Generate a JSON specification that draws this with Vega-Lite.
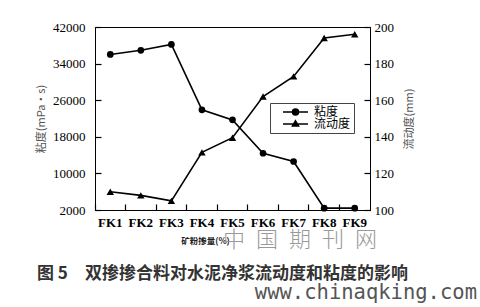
{
  "$schema": "https://vega.github.io/schema/vega-lite/v6.json",
  "padding": {"left": 35, "top": 20, "right": 2, "bottom": 0},
  "background": "white",
  "title": {"text": "www.chinaqking.com", "orient": "bottom", "anchor": "end", "frame": "bounds", "font": "DejaVu Sans Mono", "fontSize": 20.5, "fontWeight": "normal", "color": "#555", "dx": 62, "offset": 1},
  "vconcat": [
    {
      "title": {"text": "图 5　双掺掺合料对水泥净浆流动度和粘度的影响", "orient": "bottom", "anchor": "start", "frame": "bounds", "font": "Noto Sans CJK SC", "fontSize": 17, "fontWeight": "bold", "color": "#333", "dx": 2, "offset": 15},
      "vconcat": [
        {
          "title": {"text": "中\u2002国\u2002期\u2002刊\u2002网", "orient": "bottom", "anchor": "end", "frame": "group", "font": "Noto Sans CJK SC", "fontSize": 22, "fontWeight": 300, "color": "#999", "dx": 7, "offset": -15},
          "width": 275,
          "height": 183,
          "data": {
            "values": [
              {"k": "FK1", "s": "粘度", "v": 36000},
              {"k": "FK2", "s": "粘度", "v": 36900},
              {"k": "FK3", "s": "粘度", "v": 38200},
              {"k": "FK4", "s": "粘度", "v": 23900},
              {"k": "FK5", "s": "粘度", "v": 21700},
              {"k": "FK6", "s": "粘度", "v": 14400},
              {"k": "FK7", "s": "粘度", "v": 12600},
              {"k": "FK8", "s": "粘度", "v": 2400},
              {"k": "FK9", "s": "粘度", "v": 2400},
              {"k": "FK1", "s": "流动度", "v": 110},
              {"k": "FK2", "s": "流动度", "v": 108},
              {"k": "FK3", "s": "流动度", "v": 105},
              {"k": "FK4", "s": "流动度", "v": 131.5},
              {"k": "FK5", "s": "流动度", "v": 139.5},
              {"k": "FK6", "s": "流动度", "v": 162},
              {"k": "FK7", "s": "流动度", "v": 173},
              {"k": "FK8", "s": "流动度", "v": 194},
              {"k": "FK9", "s": "流动度", "v": 196}
            ]
          },
          "encoding": {
            "x": {
              "field": "k", "type": "ordinal",
              "scale": {"type": "band", "paddingInner": 0, "paddingOuter": 0},
              "axis": {"title": "矿粉掺量(%)", "titleX": 110}
            }
          },
          "layer": [
            {
              "transform": [{"filter": "datum.s === '粘度'"}],
              "encoding": {
                "y": {
                  "field": "v", "type": "quantitative",
                  "scale": {"domain": [2000, 42000], "zero": false, "nice": false},
                  "axis": {"orient": "left", "values": [2000, 10000, 18000, 26000, 34000, 42000], "format": "d", "title": "粘度(mPa·s)", "titlePadding": 6}
                }
              },
              "layer": [
                {"mark": {"type": "line", "color": "black", "strokeWidth": 1.6}},
                {"mark": {"type": "point", "shape": "circle", "filled": true, "color": "black", "size": 45, "opacity": 1}},
                {
                  "mark": {"type": "point", "filled": false, "color": "black", "strokeWidth": 1.5, "size": 64, "opacity": 0},
                  "encoding": {
                    "shape": {
                      "field": "s", "type": "nominal",
                      "scale": {"domain": ["粘度", "流动度"], "range": ["M-3.125,0H3.125M0.75,0A0.75,0.75 0 1 1 -0.75,0A0.75,0.75 0 1 1 0.75,0M0.41,0A0.41,0.41 0 1 1 -0.41,0A0.41,0.41 0 1 1 0.41,0M0.1,0A0.1,0.1 0 1 1 -0.1,0A0.1,0.1 0 1 1 0.1,0", "M-3.125,0H3.125M0,-0.81L0.775,0.525L-0.775,0.525ZM0,-0.455L0.465,0.348L-0.465,0.348ZM0,-0.144L0.194,0.19L-0.194,0.19Z"]},
                      "legend": {
                        "orient": "none", "legendX": 175, "legendY": 76, "title": null,
                        "strokeColor": "#444", "padding": 3,
                        "symbolSize": 64, "symbolOffset": 16.5, "symbolOpacity": 1, "symbolStrokeWidth": 1.5, "symbolStrokeColor": "black",
                        "labelFontSize": 12, "labelFont": "Noto Sans CJK SC", "labelOffset": 12.5, "rowPadding": -6, "labelColor": "black",
                        "labelExpr": "datum.label + '\u3000'",
                        "encode": {"symbols": {"update": {"stroke": {"value": "black"}, "strokeWidth": {"value": 1.5}, "opacity": {"value": 1}}}}
                      }
                    }
                  }
                }
              ]
            },
            {
              "transform": [{"filter": "datum.s === '流动度'"}],
              "encoding": {
                "y": {
                  "field": "v", "type": "quantitative",
                  "scale": {"domain": [100, 200], "zero": false, "nice": false},
                  "axis": {"orient": "right", "values": [100, 120, 140, 160, 180, 200], "format": "d", "title": "流动度(mm)", "titlePadding": 21, "titleAngle": 270}
                }
              },
              "layer": [
                {"mark": {"type": "line", "color": "black", "strokeWidth": 1.6}},
                {"mark": {"type": "point", "shape": "triangle-up", "filled": true, "color": "black", "size": 55, "opacity": 1}}
              ]
            }
          ],
          "resolve": {"scale": {"y": "independent"}}
        }
      ]
    }
  ],
  "config": {
    "view": {"stroke": "black", "strokeWidth": 1},
    "axis": {
      "grid": false, "domainColor": "black", "tickColor": "black", "tickSize": -6, "tickWidth": 1.2,
      "labelFont": "Liberation Serif", "labelFontSize": 13, "labelColor": "black",
      "titleFont": "Noto Sans CJK SC", "titleFontSize": 11, "titleFontWeight": "normal", "titleColor": "#555"
    },
    "axisX": {
      "bandPosition": 0, "labelPadding": 12, "labelAngle": 0, "labelFontWeight": "bold",
      "titleFontSize": 8.5, "titleFontWeight": "bold", "titleColor": "#222", "titlePadding": 7
    },
    "axisLeft": {"labelPadding": 16},
    "axisRight": {"labelPadding": 10}
  }
}
